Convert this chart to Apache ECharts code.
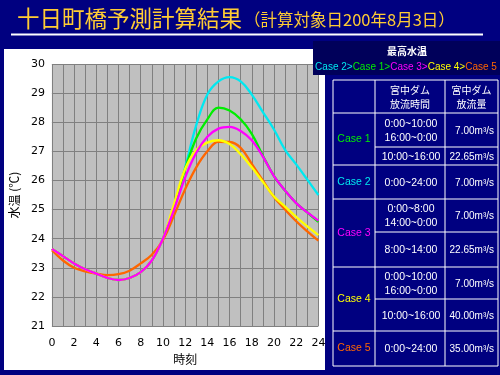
<!DOCTYPE html>
<html><head><meta charset="utf-8">
<script src="https://cdn.jsdelivr.net/npm/echarts@6/dist/echarts.min.js"></script>
<style>html,body{margin:0;padding:0;background:#000080;}#c{width:500px;height:375px;}</style>
</head><body><div id="c"></div>
<script>
// ---- data ----
const hours = [0,1,2,3,4,5,6,7,8,9,10,11,12,13,14,15,16,17,18,19,20,21,22,23,24];
const case1 = [23.65,23.4,23.15,22.95,22.8,22.65,22.58,22.65,22.85,23.25,24.0,25.1,26.4,27.45,28.1,28.5,28.4,28.1,27.6,26.85,26.15,25.65,25.22,24.9,24.58];
const case2 = [23.65,23.4,23.15,22.95,22.8,22.65,22.58,22.65,22.85,23.25,24.0,25.1,26.45,27.9,28.95,29.4,29.55,29.4,28.95,28.35,27.75,27.05,26.55,26.03,25.5];
const case3 = [23.65,23.4,23.15,22.95,22.8,22.65,22.58,22.65,22.85,23.25,24.0,25.0,26.1,26.95,27.5,27.78,27.84,27.7,27.38,26.82,26.15,25.65,25.22,24.9,24.62];
const case4 = [23.65,23.4,23.15,22.95,22.8,22.65,22.58,22.65,22.85,23.25,24.0,25.2,26.4,27.05,27.3,27.38,27.25,26.9,26.45,25.95,25.45,25.1,24.75,24.42,24.12];
const case5 = [23.6,23.25,23.0,22.88,22.8,22.75,22.78,22.9,23.15,23.45,23.95,24.8,25.7,26.45,27.0,27.33,27.32,27.12,26.57,26.0,25.43,25.0,24.6,24.25,23.93];
const xTickLabels = ['0','2','4','6','8','10','12','14','16','18','20','22','24'];
const yTickLabels = ['21','22','23','24','25','26','27','28','29','30'];
const titleMain = '十日町橋予測計算結果';
const titleSub = '（計算対象日200年8月3日）';
const rankTitle = '最高水温';
const rankOrder = ['Case 2','Case 1','Case 3','Case 4','Case 5'];
const headerTime = '宮中ダム\n放流時間';
const headerFlow = '宮中ダム\n放流量';
const caseLabels = ['Case 1','Case 2','Case 3','Case 4','Case 5'];
const periods = [['0:00~10:00\n16:00~0:00','10:00~16:00'],['0:00~24:00'],['0:00~8:00\n14:00~0:00','8:00~14:00'],['0:00~10:00\n16:00~0:00','10:00~16:00'],['0:00~24:00']];
const flows = [['7.00m³/s','22.65m³/s'],['7.00m³/s'],['7.00m³/s','22.65m³/s'],['7.00m³/s','40.00m³/s'],['35.00m³/s']];

// ---- styles ----
const colors = {'Case 1':'#00ee00','Case 2':'#00e8f0','Case 3':'#ff00ff','Case 4':'#ffff00','Case 5':'#ff6600'};
const rankKey = {'Case 1':'g','Case 2':'c','Case 3':'m','Case 4':'y','Case 5':'o'};
const NUMF = 'DejaVu Sans';
const JPF = '"Noto Sans CJK JP"';
const TF = '"Liberation Sans", Arial, sans-serif';

const g = [];
g.push({type:'rect', z:-50, shape:{x:4,y:49,width:321,height:321}, style:{fill:'#ffffff'}});
g.push({type:'text', z:10, style:{text:titleMain, x:17, y:18, fill:'#ffcc33', font:'22.5px '+JPF, verticalAlign:'middle', align:'left'}});
g.push({type:'text', z:10, style:{text:titleSub, x:244, y:20, fill:'#ffcc33', font:'16.5px '+JPF, verticalAlign:'middle', align:'left'}});
g.push({type:'line', z:10, shape:{x1:11,y1:34.5,x2:483,y2:34.5}, style:{stroke:'#ffffff', lineWidth:2}});
g.push({type:'rect', z:10, shape:{x:313,y:41,width:187,height:34}, style:{fill:'#00005a'}});
g.push({type:'text', z:11, style:{text:rankTitle, x:407, y:51, fill:'#ffffff', font:'bold 10px '+JPF, align:'center', verticalAlign:'middle'}});
const rich = {};
Object.keys(rankKey).forEach(n=>{ rich[rankKey[n]] = {fill:colors[n], font:'10px '+TF}; });
const rankText = rankOrder.map((n,i)=>'{'+rankKey[n]+'|'+n+(i<rankOrder.length-1?'>':'')+'}').join('');
g.push({type:'text', z:11, style:{text:rankText, rich:rich, x:406, y:67, align:'center', verticalAlign:'middle', font:'10px '+TF}});

const TL=333, TR=498, C1=375, C2=445, TT=80;
const groups = [[113,147,165],[165,199],[199,232,267],[267,299,331],[331,366]];
const W='#ffffff';
function ln(x1,y1,x2,y2){ g.push({type:'line', z:11, shape:{x1:x1,y1:y1,x2:x2,y2:y2}, style:{stroke:W, lineWidth:1}}); }
ln(TL,TT,TR,TT); ln(TL,366,TR,366); ln(TL,TT,TL,366); ln(TR,TT,TR,366);
ln(C1,TT,C1,366); ln(C2,TT,C2,366);
ln(TL,113,TR,113);
function txt(t,x,y,fill,align,font){ g.push({type:'text', z:12, style:{text:t, x:x, y:y, fill:fill, font:font, align:align, verticalAlign:'middle', lineHeight:14}}); }
txt(headerTime,(C1+C2)/2,97,W,'center','10px '+JPF);
txt(headerFlow,(C2+TR)/2,97,W,'center','10px '+JPF);
groups.forEach((b,i)=>{
  const top=b[0], bot=b[b.length-1];
  if(i>0) ln(TL,top,TR,top);
  txt(caseLabels[i],(TL+C1)/2,(top+bot)/2,colors[caseLabels[i]],'center','10.5px '+TF);
  for(let j=0;j<b.length-1;j++){
    const a=b[j], c=b[j+1];
    if(j>0) ln(C1,a,TR,a);
    txt(periods[i][j],(C1+C2)/2+1,(a+c)/2+1,W,'center','10.5px '+TF);
    txt(flows[i][j],494,(a+c)/2+1,W,'right','10px '+TF);
  }
});

const mk = arr => hours.map((h,i)=>[h,arr[i]]);
const sdef = [['Case 2',case2],['Case 1',case1],['Case 5',case5],['Case 4',case4],['Case 3',case3]];

const option = {
  backgroundColor:'#000080',
  animation:false,
  grid:{left:50.8, right:181.6, top:64, bottom:49, show:true, backgroundColor:'#c0c0c0', borderWidth:0},
  xAxis:{type:'value', min:0, max:24, interval:1,
    axisLine:{show:false}, axisTick:{show:false},
    axisLabel:{color:'#000', fontFamily:NUMF, fontSize:11, margin:12,
      formatter:v=> xTickLabels.indexOf(String(v))>=0 ? String(v) : ''},
    splitLine:{show:true, lineStyle:{color:'#808080', width:1}},
    name:'時刻', nameLocation:'middle', nameGap:27,
    nameTextStyle:{color:'#000', fontFamily:JPF, fontSize:12}},
  yAxis:{type:'value', min:21, max:30, interval:1,
    axisLine:{show:false}, axisTick:{show:false},
    axisLabel:{color:'#000', fontFamily:NUMF, fontSize:11, margin:7,
      formatter:v=> yTickLabels.indexOf(String(v))>=0 ? String(v) : ''},
    splitLine:{show:true, lineStyle:{color:'#808080', width:1}},
    name:'水温 (℃)', nameLocation:'middle', nameGap:26, nameRotate:90,
    nameTextStyle:{color:'#000', fontFamily:JPF, fontSize:12}},
  series: sdef.map(s=>({type:'line', name:s[0], data:mk(s[1]), smooth:0.4, showSymbol:false,
    lineStyle:{color:colors[s[0]], width:2.3}, itemStyle:{color:colors[s[0]]}})),
  graphic: g
};
const chart = echarts.init(document.getElementById('c'));
chart.setOption(option);
</script></body></html>
